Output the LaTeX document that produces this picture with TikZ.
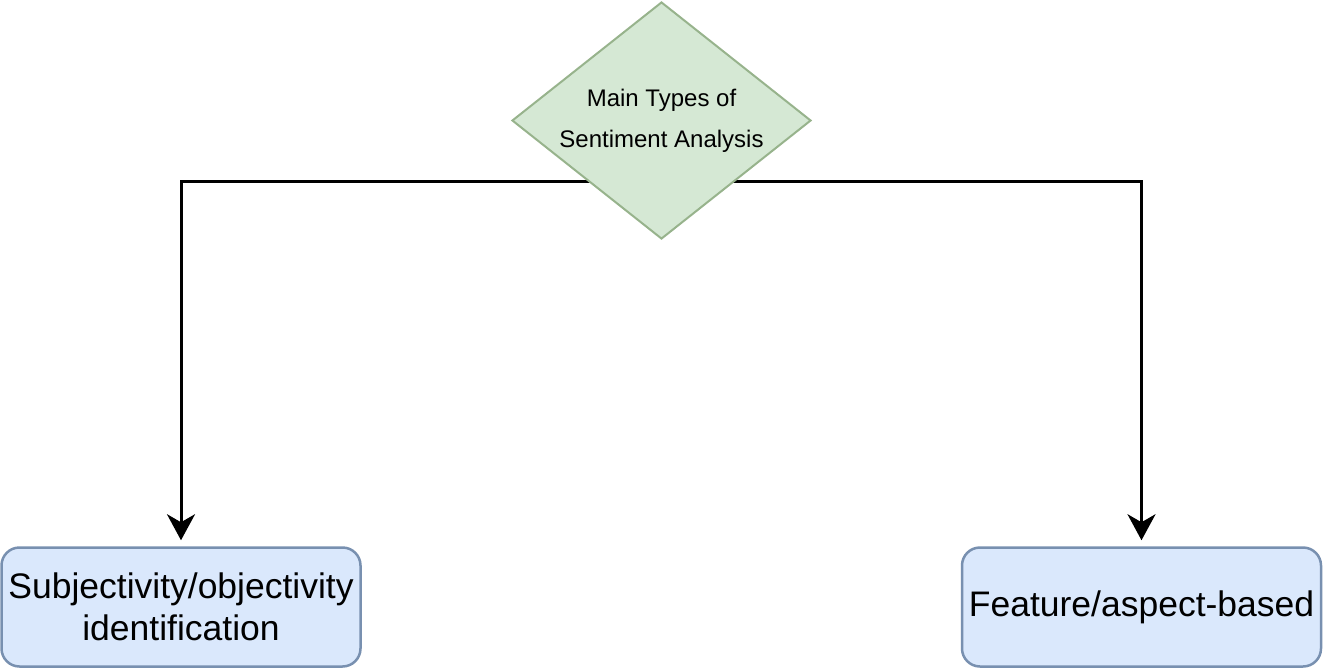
\documentclass[tikz,border=0pt]{standalone}
\usepackage{fontspec}
\setmainfont{Liberation Sans}
\usetikzlibrary{shapes.geometric,arrows.meta}
\pgfdeclarelayer{bg}
\pgfsetlayers{bg,main}
\definecolor{gfill}{HTML}{D5E8D4}
\definecolor{gdraw}{HTML}{97B38C}
\definecolor{bfill}{HTML}{DAE8FC}
\definecolor{bdraw}{HTML}{7890B0}
\newcommand{\flatlines}[1]{\smash{\makebox[0pt]{\begin{tabular}{@{}c@{}}#1\end{tabular}}}}
\tikzset{
  decision/.style={diamond, draw=gdraw, fill=gfill, line width=2pt, inner sep=0pt,
    minimum width=299pt, minimum height=237pt,
    font=\fontsize{24}{41}\selectfont},
  typebox/.style={rectangle, rounded corners=18pt, draw=bdraw, fill=bfill, line width=2.5pt,
    minimum width=359pt, minimum height=119pt, align=center, inner sep=0pt,
    font=\fontsize{35.5}{42}\selectfont},
  conn/.style={line width=3pt, -{Stealth[length=26pt, width=28pt, inset=8pt]}, shorten >=6pt}
}
\begin{document}
\begin{tikzpicture}[x=1pt,y=-1pt]
\useasboundingbox (0,0) rectangle (1326,672);
\node[typebox] (l) at (181,607) {Subjectivity/objectivity\\identification};
\node[typebox] (r) at (1141.5,607) {Feature/aspect-based};
\node[decision] (d) at (661.5,120.5) {\raisebox{-9pt}{\flatlines{Main Types of\\Sentiment Analysis}}};
\begin{pgfonlayer}{bg}
\draw[conn] ([yshift=-60.5pt]d.center) -| (l.north);
\draw[conn] ([yshift=-60.5pt]d.center) -| (r.north);
\end{pgfonlayer}
\end{tikzpicture}
\end{document}
